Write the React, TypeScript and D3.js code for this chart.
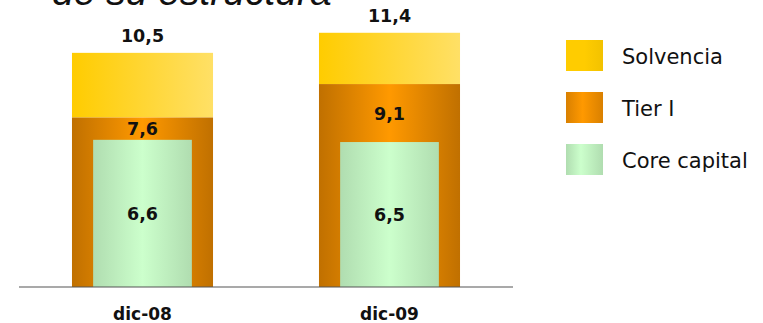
import { useEffect } from 'react';
import * as d3 from 'd3';

const WIDTH = 763;
const HEIGHT = 323;

export const categories = ['dic-08', 'dic-09'];
export const solvencia = [10.5, 11.4];
export const tier1 = [7.6, 9.1];
export const coreCapital = [6.6, 6.5];
export const legendLabels = ['Solvencia', 'Tier I', 'Core capital'];

const fmt = (v: number) => v.toFixed(1).replace('.', ',');

const App = () => {
    useEffect(() => {
        document.body.style.margin = '0';
    }, []);

    const baseline = 287;
    const xScale = d3
        .scaleBand()
        .domain(categories)
        .range([19, 513])
        .paddingInner(0.429)
        .paddingOuter(0.2145);

    const yScale = d3
        .scaleLinear()
        .domain([0, 12])
        .range([baseline, baseline - 12 * 22.3]);

    const bw = xScale.bandwidth();
    const innerW = bw * 0.7;

    const legendFills = ['url(#gSolvLeg)', 'url(#gTierLeg)', 'url(#gCoreLeg)'];
    const legendY = d3.scalePoint().domain(legendLabels).range([55.5, 159.5]);

    const bars = categories.map((c, i) => {
        const x0 = xScale(c) || 0;
        const cx = x0 + bw / 2;
        const ySolv = yScale(solvencia[i]);
        const yTier = yScale(tier1[i]);
        const yCore = yScale(coreCapital[i]);
        return (
            <g key={c}>
                <rect x={x0} y={ySolv} width={bw} height={yTier - ySolv} fill="url(#gSolv)" />
                <rect x={x0} y={yTier} width={bw} height={baseline - yTier} fill="url(#gTier)" />
                <rect x={cx - innerW / 2} y={yCore} width={innerW} height={baseline - yCore} fill="url(#gCore)" />
                <text x={cx} y={ySolv - 11} textAnchor="middle" className="val">{fmt(solvencia[i])}</text>
                <text x={cx} y={(yTier + yCore) / 2 + 6.5} textAnchor="middle" className="val">{fmt(tier1[i])}</text>
                <text x={cx} y={(yCore + baseline) / 2 + 6.5} textAnchor="middle" className="val">{fmt(coreCapital[i])}</text>
                <text x={cx} y={320} textAnchor="middle" className="cat">{c}</text>
            </g>
        );
    });

    return (
        <svg width={WIDTH} height={HEIGHT} style={{ display: 'block' }}>
            <style>{`
                .val { font-family: 'DejaVu Sans', Verdana, sans-serif; font-weight: bold; font-size: 17.5px; fill: #111; }
                .cat { font-family: 'DejaVu Sans', Verdana, sans-serif; font-weight: bold; font-size: 17px; fill: #111; }
                .leg { font-family: 'DejaVu Sans', Verdana, sans-serif; font-size: 21px; fill: #111; }
            `}</style>
            <defs>
                <linearGradient id="gSolv" x1="0" x2="1" y1="0" y2="0">
                    <stop offset="0" stopColor="#FFCC00" />
                    <stop offset="1" stopColor="#FFE066" />
                </linearGradient>
                <linearGradient id="gTier" x1="0" x2="1" y1="0" y2="0">
                    <stop offset="0" stopColor="#C07000" />
                    <stop offset="0.5" stopColor="#FF9900" />
                    <stop offset="1" stopColor="#C07000" />
                </linearGradient>
                <linearGradient id="gCore" x1="0" x2="1" y1="0" y2="0">
                    <stop offset="0" stopColor="#B0DDB0" />
                    <stop offset="0.5" stopColor="#CCFFCC" />
                    <stop offset="1" stopColor="#B0DDB0" />
                </linearGradient>
                <linearGradient id="gSolvLeg" x1="0" x2="1" y1="0" y2="0">
                    <stop offset="0" stopColor="#FFCC00" />
                    <stop offset="0.5" stopColor="#FFCC00" />
                    <stop offset="1" stopColor="#F2C200" />
                </linearGradient>
                <linearGradient id="gTierLeg" x1="0" x2="1" y1="0" y2="0">
                    <stop offset="0" stopColor="#D98000" />
                    <stop offset="0.45" stopColor="#FF9900" />
                    <stop offset="1" stopColor="#D98000" />
                </linearGradient>
                <linearGradient id="gCoreLeg" x1="0" x2="1" y1="0" y2="0">
                    <stop offset="0" stopColor="#B0DDB0" />
                    <stop offset="0.4" stopColor="#CCFFCC" />
                    <stop offset="1" stopColor="#B0DDB0" />
                </linearGradient>
            </defs>

            <text x={52} y={5} fontFamily="'Liberation Sans', Arial, sans-serif" fontStyle="italic" fontSize={39} fill="#111">
                de su estructura
            </text>

            {bars}

            <line x1={19} x2={513} y1={baseline} y2={baseline} stroke="#555" strokeWidth={1.2} />

            {legendLabels.map((l, i) => {
                const cy = legendY(l) || 0;
                return (
                    <g key={l}>
                        <rect x={566} y={cy - 15.5} width={37} height={31} fill={legendFills[i]} />
                        <text x={622} y={cy + 8} className="leg">{l}</text>
                    </g>
                );
            })}
        </svg>
    );
};

export default App;
